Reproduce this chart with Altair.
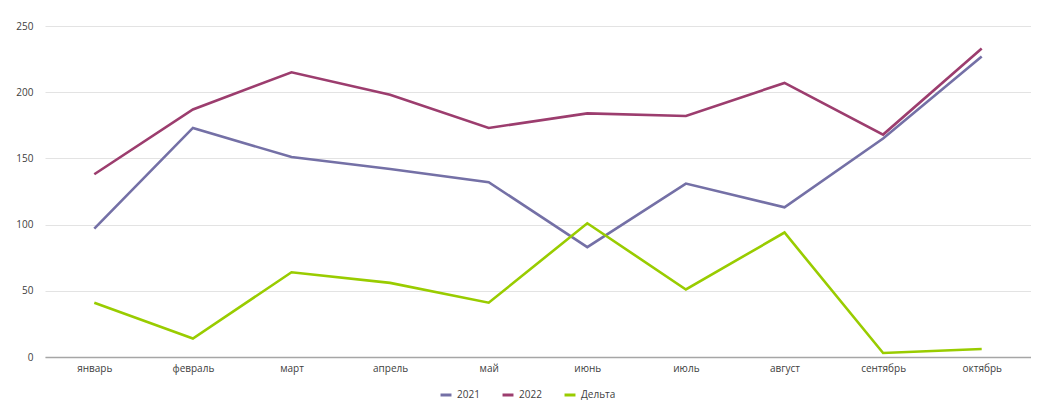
import altair as alt
import pandas as pd

months = ["январь", "февраль", "март", "апрель", "май", "июнь", "июль", "август", "сентябрь", "октябрь"]
v2021 = [97, 173, 151, 142, 132, 83, 131, 113, 165, 227]
v2022 = [138, 187, 215, 198, 173, 184, 182, 207, 168, 233]
delta = [41, 14, 64, 56, 41, 101, 51, 94, 3, 6]
series = ["2021", "2022", "Дельта"]
colors = ["#7470a6", "#9c3d6e", "#99cc00"]

rows = []
for name, vals in zip(series, [v2021, v2022, delta]):
    for m, v in zip(months, vals):
        rows.append({"month": m, "series": name, "value": v})
df = pd.DataFrame(rows)

FONT = "Open Sans"

chart = alt.Chart(df).mark_line(strokeWidth=2.6).encode(
    x=alt.X("month:N", sort=months, title=None,
            scale=alt.Scale(type="point", padding=0.5),
            axis=alt.Axis(labelAngle=0, ticks=False, domainColor="#a6a6a6", domainWidth=1.5,
                          labelPadding=6, labelFontSize=10, labelColor="#404040", labelFont=FONT,
                          grid=False)),
    y=alt.Y("value:Q", title=None,
            scale=alt.Scale(domain=[0, 250], nice=False),
            axis=alt.Axis(values=[0, 50, 100, 150, 200, 250], ticks=False, domain=False,
                          labelPadding=12, labelFontSize=10, labelColor="#404040", labelFont=FONT,
                          gridColor="#e3e3e3", gridWidth=1)),
    color=alt.Color("series:N", sort=series,
                    scale=alt.Scale(domain=series, range=colors),
                    legend=alt.Legend(title=None, orient="none", direction="horizontal",
                                      legendX=394, legendY=362, symbolType="stroke",
                                      symbolStrokeWidth=3, symbolSize=120, labelFontSize=10,
                                      labelColor="#404040", labelFont=FONT, columnPadding=16,
                                      labelOffset=4)),
).properties(
    width=986, height=331,
    autosize=alt.AutoSizeParams(type="none"),
    padding={"left": 37, "top": 18, "right": 0, "bottom": 44},
).configure_view(stroke=None)

chart.save("out.html", embed_options={"renderer": "svg", "actions": False})
